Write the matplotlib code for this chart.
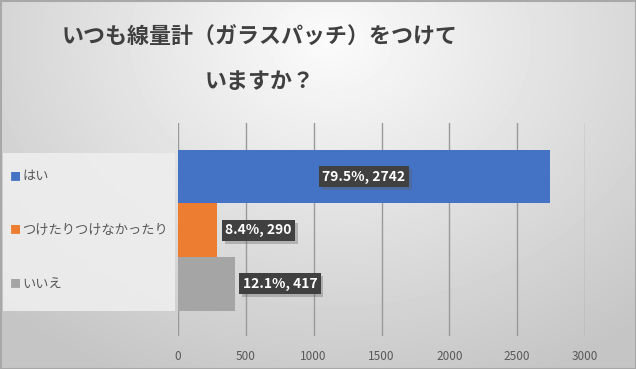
import numpy as np
import matplotlib
matplotlib.use("Agg")
import matplotlib.pyplot as plt
from matplotlib import transforms
from matplotlib.patches import Rectangle
import matplotlib.patheffects as pe

plt.rcParams['font.family'] = ['Noto Sans CJK JP', 'DejaVu Sans']

# data
categories = ['はい', 'つけたりつけなかったり', 'いいえ']
counts = [2742, 290, 417]
percents = [79.5, 8.4, 12.1]
colors = ['#4472C4', '#ED7D31', '#A5A5A5']
xticks = [0, 500, 1000, 1500, 2000, 2500, 3000]
title_lines = ['いつも線量計（ガラスパッチ）をつけて', 'いますか？']

W, H = 636, 369
fig = plt.figure(figsize=(W / 100, H / 100), dpi=100)

# background gradient
bg = fig.add_axes([0, 0, 1, 1], zorder=-10)
yy, xx = np.mgrid[0:H, 0:W]
r = np.sqrt(((xx - 330) / 420.0) ** 2 + ((yy - 40) / 330.0) ** 2)
shade = np.clip(0.985 - 0.19 * r, 0.77, 1)
bg.imshow(shade, cmap='gray', vmin=0, vmax=1, extent=[0, W, H, 0], aspect='auto')
bg.set_xlim(0, W)
bg.set_ylim(H, 0)
bg.axis('off')
# outer border
bg.add_patch(Rectangle((0.5, 0.5), W - 1, H - 1, fill=False, ec='#a8a8a8', lw=1.5))
# legend panel
bg.add_patch(Rectangle((3, 153), 172, 158, fc='#eeeeee', ec='none', alpha=0.9))

# title
for k, line in enumerate(title_lines):
    fig.text(260 / W, 1 - (37 + 44 * k) / H, line, ha='center', va='center',
             fontsize=15.8, fontweight='bold', color='#404040')

ax = fig.add_axes([178 / W, 1 - 336 / H, 407 / W, 213 / H])
ax.patch.set_alpha(0)
ypos = np.arange(len(categories))
ax.barh(ypos, counts, height=1.0, color=colors, zorder=3)
ax.set_xlim(0, 3000)
ax.set_ylim(2.97, -1.0)
ax.set_xticks(xticks)
ax.set_xticklabels([str(t) for t in xticks])
ax.set_yticks([])
ax.grid(axis='x', color='#9a9a9a', lw=1.0, zorder=0)
for s in ax.spines.values():
    s.set_visible(False)
ax.tick_params(axis='x', length=0, pad=10, labelsize=8.5, labelcolor='#595959')

# data labels
for i, (c, p) in enumerate(zip(counts, percents)):
    txt = f'{p}%, {c}'
    if c > 1000:
        x, ha, off = c / 2, 'center', 0
    else:
        x, ha, off = c, 'left', 8
    tr = transforms.offset_copy(ax.transData, fig=fig, x=off, y=0, units='dots')
    t = ax.text(x, i, txt, transform=tr, ha=ha, va='center', fontsize=10,
                fontweight='bold', color='white', zorder=5,
                bbox=dict(boxstyle='square,pad=0.25', fc='#404040', ec='none'))
    t.get_bbox_patch().set_path_effects(
        [pe.SimplePatchShadow(offset=(2, -2), shadow_rgbFace='#606060', alpha=0.35), pe.Normal()])

# legend, rows aligned with bars
blend = transforms.blended_transform_factory(fig.transFigure, ax.transData)
for i, (cat, col) in enumerate(zip(categories, colors)):
    ax.text(10 / W, i, '■', transform=blend, ha='left', va='center',
            fontsize=8, color=col, clip_on=False)
    ax.text(22 / W, i, cat, transform=blend, ha='left', va='center',
            fontsize=9.5, color='#595959', clip_on=False)

fig.savefig('out.png', dpi=100)
